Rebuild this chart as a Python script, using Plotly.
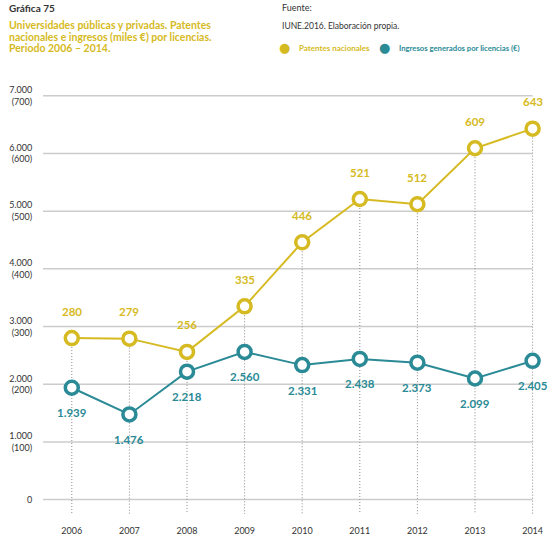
import plotly.graph_objects as go

years = [2006, 2007, 2008, 2009, 2010, 2011, 2012, 2013, 2014]
patentes = [280, 279, 256, 335, 446, 521, 512, 609, 643]
ingresos = [1939, 1476, 2218, 2560, 2331, 2438, 2373, 2099, 2405]
tick_vals = [0, 1000, 2000, 3000, 4000, 5000, 6000, 7000]
tick_text = ["0", "1.000<br>(100)", "2.000<br>(200)", "3.000<br>(300)", "4.000<br>(400)",
             "5.000<br>(500)", "6.000<br>(600)", "7.000<br>(700)"]
title_lines = ["Universidades públicas y privadas. Patentes",
               "nacionales e ingresos (miles €) por licencias.",
               "Periodo 2006 – 2014."]

YEL = "#D6BA22"
TEAL = "#2A8A96"
DARK = "#333333"
FONT = "Lato"

W, H = 558, 547
L, T = 43, 90
PLOT_BOTTOM = 514
B = H - PLOT_BOTTOM
R = 0
PW, PH = W - L - R, H - T - B


def px(x):
    return (x - L) / PW


def py(y):
    return (H - B - y) / PH


def fmt(v):
    return f"{v:,}".replace(",", ".")


pat_scaled = [p * 10 for p in patentes]

fig = go.Figure()

dx, dy = [], []
for yr, a, b in zip(years, pat_scaled, ingresos):
    dx += [yr, yr, None]
    dy += [max(a, b), -250, None]
fig.add_trace(go.Scatter(x=dx, y=dy, mode="lines", hoverinfo="skip",
                         line=dict(color="#8A8A8A", width=1, dash="1px,2px"), showlegend=False))

fig.add_trace(go.Scatter(x=years, y=pat_scaled, mode="lines+markers", name="Patentes nacionales",
                         line=dict(color=YEL, width=2),
                         marker=dict(size=13, color="white", line=dict(color=YEL, width=3.5)),
                         showlegend=False))
fig.add_trace(go.Scatter(x=years, y=ingresos, mode="lines+markers", name="Ingresos generados por licencias (€)",
                         line=dict(color=TEAL, width=2),
                         marker=dict(size=13, color="white", line=dict(color=TEAL, width=3.5)),
                         showlegend=False))

shapes = []
for v in tick_vals:
    shapes.append(dict(type="line", xref="x", yref="y", x0=2005.5, x1=2014, y0=v, y1=v,
                       line=dict(color="#CCCCCC", width=1.5), layer="below"))

ann = []
for yr, p, s in zip(years, patentes, pat_scaled):
    ann.append(dict(x=yr, y=s, xref="x", yref="y", text=f"<b>{p}</b>", showarrow=False,
                    yshift=27, font=dict(family=FONT, size=11.5, color=YEL)))
for yr, v in zip(years, ingresos):
    ann.append(dict(x=yr, y=v, xref="x", yref="y", text=f"<b>{fmt(v)}</b>", showarrow=False,
                    yshift=-25, font=dict(family=FONT, size=11.5, color=TEAL)))

ann.append(dict(x=px(7), y=py(8), xref="paper", yref="paper", xanchor="left", yanchor="middle",
                text="<b>Gráfica 75</b>", showarrow=False, font=dict(family=FONT, size=10, color=DARK)))
for i, line in enumerate(title_lines):
    ann.append(dict(x=px(7), y=py(25 + 11.5 * i), xref="paper", yref="paper", xanchor="left",
                    yanchor="middle", text=f"<b>{line}</b>", showarrow=False,
                    font=dict(family=FONT, size=10.5, color=YEL)))
ann.append(dict(x=px(280), y=py(7), xref="paper", yref="paper", xanchor="left", yanchor="middle",
                text="Fuente:", showarrow=False, font=dict(family=FONT, size=9, color=DARK)))
ann.append(dict(x=px(280), y=py(26), xref="paper", yref="paper", xanchor="left", yanchor="middle",
                text="IUNE.2016. Elaboración propia.", showarrow=False,
                font=dict(family=FONT, size=8.5, color=DARK)))
ann.append(dict(x=px(284), y=py(48), xref="paper", yref="paper", xanchor="center", yanchor="middle",
                text="●", showarrow=False, font=dict(family="DejaVu Sans", size=13, color=YEL)))
ann.append(dict(x=px(297), y=py(48), xref="paper", yref="paper", xanchor="left", yanchor="middle",
                text="<b>Patentes nacionales</b>", showarrow=False, font=dict(family=FONT, size=8, color=YEL)))
ann.append(dict(x=px(384), y=py(48), xref="paper", yref="paper", xanchor="center", yanchor="middle",
                text="●", showarrow=False, font=dict(family="DejaVu Sans", size=13, color=TEAL)))
ann.append(dict(x=px(397), y=py(48), xref="paper", yref="paper", xanchor="left", yanchor="middle",
                text="<b>Ingresos generados por licencias (€)</b>", showarrow=False,
                font=dict(family=FONT, size=7.7, color=TEAL)))

fig.update_layout(
    width=W, height=H, margin=dict(l=L, r=R, t=T, b=B),
    paper_bgcolor="white", plot_bgcolor="white",
    shapes=shapes, annotations=ann, showlegend=False,
    xaxis=dict(range=[2005.5, 2005.5 + PW / 57.6], tickmode="array", tickvals=years,
               ticktext=[str(y) for y in years], showgrid=False, zeroline=False, showline=False,
               ticks="outside", ticklen=8, tickcolor="rgba(0,0,0,0)",
               tickfont=dict(family=FONT, size=9, color=DARK)),
    yaxis=dict(range=[-250, 7100], tickmode="array", tickvals=tick_vals, ticktext=tick_text,
               showgrid=False, zeroline=False, showline=False, ticks="outside", ticklen=8,
               tickcolor="rgba(0,0,0,0)", tickfont=dict(family=FONT, size=9, color=DARK)),
)

fig.write_html("out.html", config={"displayModeBar": False},
               post_script="document.body.style.margin='0';document.body.style.overflow='hidden';")
